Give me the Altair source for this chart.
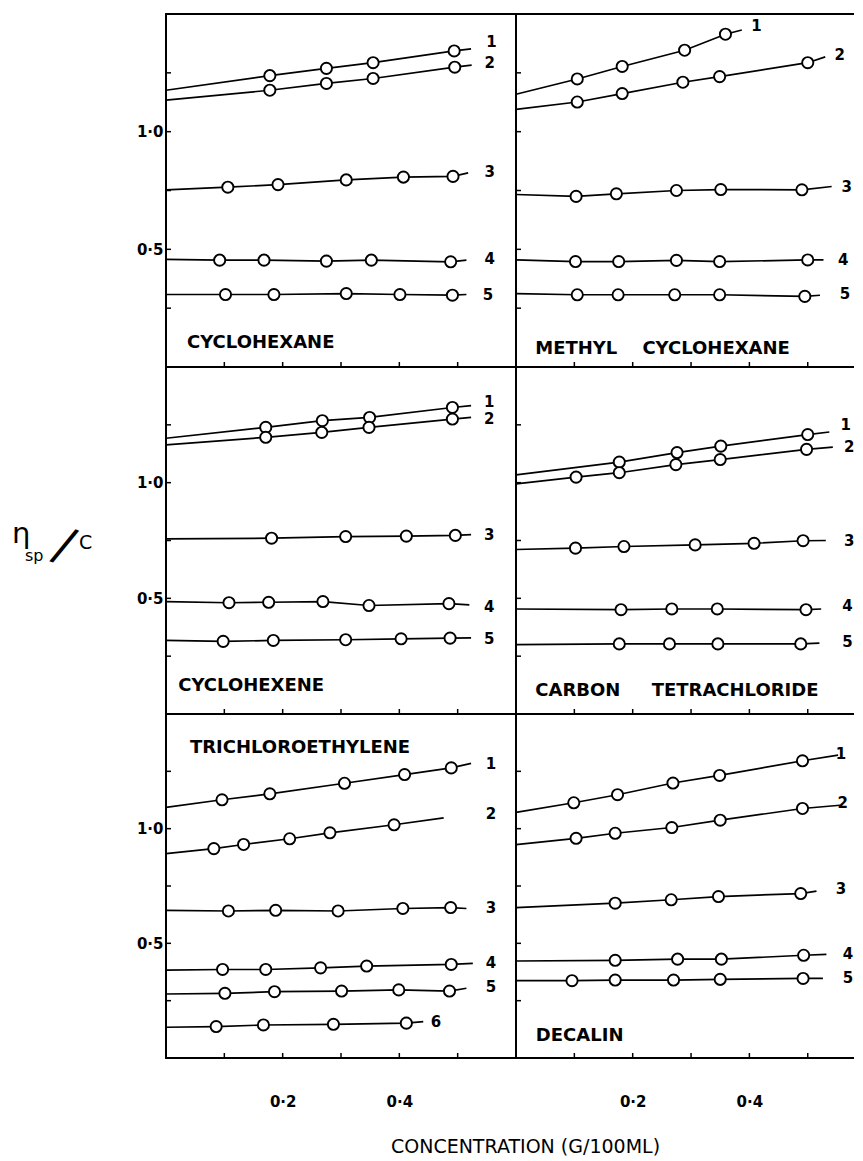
import altair as alt
import pandas as pd

FONT = "DejaVu Sans"

# ---------------- axis values ----------------
x_tick_values = [0.1, 0.2, 0.3, 0.4, 0.5]
y_tick_values = [0.25, 0.5, 0.75, 1.0, 1.25]
x_label_values = [0.2, 0.4]
y_label_values = [0.5, 1.0]

# ---------------- CYCLOHEXANE ----------------
cyclohexane_x = [
    [0.178, 0.275, 0.355, 0.494],
    [0.178, 0.275, 0.355, 0.495],
    [0.106, 0.192, 0.309, 0.407, 0.492],
    [0.092, 0.168, 0.275, 0.352, 0.488],
    [0.102, 0.185, 0.309, 0.401, 0.491],
]
cyclohexane_y = [
    [1.238, 1.269, 1.293, 1.343],
    [1.176, 1.205, 1.226, 1.274],
    [0.764, 0.775, 0.795, 0.807, 0.810],
    [0.454, 0.454, 0.450, 0.454, 0.447],
    [0.308, 0.308, 0.312, 0.308, 0.305],
]
cyclohexane_start_y = [1.176, 1.134, 0.753, 0.457, 0.308]
cyclohexane_end_x = [0.523, 0.524, 0.518, 0.515, 0.515]
cyclohexane_end_y = [1.352, 1.283, 0.825, 0.454, 0.308]
cyclohexane_label_x = [0.558, 0.555, 0.555, 0.555, 0.552]
cyclohexane_label_y = [1.383, 1.291, 0.828, 0.457, 0.308]

# ---------------- METHYL CYCLOHEXANE ----------------
methyl_x = [
    [0.105, 0.182, 0.289, 0.359],
    [0.105, 0.182, 0.286, 0.349, 0.500],
    [0.103, 0.172, 0.275, 0.351, 0.490],
    [0.102, 0.176, 0.275, 0.349, 0.500],
    [0.105, 0.175, 0.272, 0.349, 0.495],
]
methyl_y = [
    [1.224, 1.277, 1.346, 1.414],
    [1.126, 1.162, 1.210, 1.234, 1.293],
    [0.725, 0.736, 0.750, 0.754, 0.753],
    [0.448, 0.448, 0.453, 0.448, 0.455],
    [0.307, 0.307, 0.307, 0.307, 0.300],
]
methyl_start_y = [1.159, 1.095, 0.733, 0.455, 0.312]
methyl_end_x = [0.387, 0.530, 0.541, 0.527, 0.521]
methyl_end_y = [1.432, 1.318, 0.767, 0.455, 0.305]
methyl_label_x = [0.412, 0.555, 0.567, 0.561, 0.564]
methyl_label_y = [1.447, 1.325, 0.764, 0.455, 0.312]

# ---------------- CYCLOHEXENE ----------------
cyclohexene_x = [
    [0.171, 0.268, 0.349, 0.491],
    [0.171, 0.267, 0.348, 0.491],
    [0.181, 0.308, 0.412, 0.496],
    [0.108, 0.176, 0.269, 0.348, 0.485],
    [0.098, 0.184, 0.308, 0.403, 0.487],
]
cyclohexene_y = [
    [1.239, 1.268, 1.282, 1.325],
    [1.196, 1.217, 1.239, 1.275],
    [0.760, 0.767, 0.769, 0.772],
    [0.481, 0.483, 0.486, 0.469, 0.477],
    [0.314, 0.318, 0.321, 0.325, 0.328],
]
cyclohexene_start_y = [1.192, 1.163, 0.757, 0.486, 0.318]
cyclohexene_end_x = [0.523, 0.523, 0.523, 0.520, 0.523]
cyclohexene_end_y = [1.333, 1.282, 0.775, 0.472, 0.329]
cyclohexene_label_x = [0.554, 0.554, 0.554, 0.554, 0.554]
cyclohexene_label_y = [1.347, 1.275, 0.772, 0.462, 0.326]

# ---------------- CARBON TETRACHLORIDE ----------------
carbon_x = [
    [0.177, 0.276, 0.351, 0.500],
    [0.103, 0.177, 0.274, 0.350, 0.498],
    [0.102, 0.185, 0.307, 0.408, 0.492],
    [0.180, 0.267, 0.345, 0.497],
    [0.177, 0.263, 0.346, 0.488],
]
carbon_y = [
    [1.089, 1.130, 1.158, 1.208],
    [1.024, 1.043, 1.078, 1.100, 1.144],
    [0.717, 0.724, 0.731, 0.738, 0.749],
    [0.451, 0.454, 0.454, 0.451],
    [0.303, 0.303, 0.303, 0.303],
]
carbon_start_y = [1.034, 0.995, 0.711, 0.454, 0.300]
carbon_end_x = [0.537, 0.543, 0.531, 0.523, 0.520]
carbon_end_y = [1.219, 1.154, 0.750, 0.454, 0.306]
carbon_label_x = [0.565, 0.571, 0.571, 0.568, 0.568]
carbon_label_y = [1.248, 1.154, 0.750, 0.469, 0.310]

# ---------------- TRICHLOROETHYLENE ----------------
trichloro_x = [
    [0.096, 0.178, 0.306, 0.409, 0.489],
    [0.082, 0.133, 0.212, 0.281, 0.391],
    [0.107, 0.188, 0.295, 0.406, 0.488],
    [0.097, 0.171, 0.265, 0.344, 0.489],
    [0.101, 0.186, 0.301, 0.399, 0.486],
    [0.086, 0.167, 0.287, 0.412],
]
trichloro_y = [
    [1.126, 1.152, 1.198, 1.236, 1.265],
    [0.913, 0.931, 0.956, 0.982, 1.017],
    [0.641, 0.644, 0.641, 0.652, 0.656],
    [0.386, 0.386, 0.393, 0.401, 0.408],
    [0.282, 0.289, 0.292, 0.297, 0.292],
    [0.137, 0.144, 0.147, 0.152],
]
trichloro_start_y = [1.093, 0.891, 0.644, 0.383, 0.279, 0.134]
trichloro_end_x = [0.523, 0.476, 0.515, 0.526, 0.515, 0.441]
trichloro_end_y = [1.285, 1.047, 0.652, 0.413, 0.304, 0.159]
trichloro_label_x = [0.557, 0.557, 0.557, 0.557, 0.557, 0.463]
trichloro_label_y = [1.282, 1.065, 0.652, 0.413, 0.311, 0.159]

# ---------------- DECALIN ----------------
decalin_x = [
    [0.099, 0.174, 0.269, 0.349, 0.491],
    [0.103, 0.170, 0.267, 0.350, 0.491],
    [0.170, 0.266, 0.347, 0.488],
    [0.170, 0.277, 0.352, 0.493],
    [0.096, 0.170, 0.270, 0.350, 0.492],
]
decalin_y = [
    [1.113, 1.148, 1.199, 1.232, 1.296],
    [0.958, 0.980, 1.005, 1.037, 1.088],
    [0.675, 0.690, 0.704, 0.717],
    [0.426, 0.431, 0.431, 0.448],
    [0.337, 0.340, 0.340, 0.343, 0.347],
]
decalin_start_y = [1.071, 0.930, 0.656, 0.423, 0.337]
decalin_end_x = [0.552, 0.555, 0.515, 0.532, 0.526]
decalin_end_y = [1.321, 1.102, 0.728, 0.452, 0.347]
decalin_label_x = [0.557, 0.560, 0.557, 0.569, 0.569]
decalin_label_y = [1.325, 1.110, 0.735, 0.455, 0.347]

# ---------------- panel names ----------------
NB = "\u00a0"
panel_names = [
    "CYCLOHEXANE",
    "METHYL" + NB * 4 + "CYCLOHEXANE",
    "CYCLOHEXENE",
    "CARBON" + NB * 5 + "TETRACHLORIDE",
    "TRICHLOROETHYLENE",
    "DECALIN",
]
name_x = [0.036, 0.033, 0.021, 0.033, 0.041, 0.034]
name_y = [0.081, 0.055, 0.099, 0.078, 1.330, 0.074]

LABEL_EXPR = "replace(format(datum.value, '.1f'), '.', '\u00b7')"


def build_panel(idx, xs, ys, start_y, end_x, end_y, lab_x, lab_y,
                width, height, xmax, bottom, left, x_title=False, extra=None):
    pts, lines = [], []
    for i, (sx, sy) in enumerate(zip(xs, ys)):
        s = str(i + 1)
        lines.append({"s": s, "o": 0, "x": 0.0, "y": start_y[i]})
        for k, (a, b) in enumerate(zip(sx, sy)):
            pts.append({"s": s, "x": a, "y": b})
            lines.append({"s": s, "o": k + 1, "x": a, "y": b})
        lines.append({"s": s, "o": len(sx) + 1, "x": end_x[i], "y": end_y[i]})
    pts_df = pd.DataFrame(pts)
    lines_df = pd.DataFrame(lines)
    lab_df = pd.DataFrame({"x": lab_x, "y": lab_y,
                           "t": [str(i + 1) for i in range(len(lab_x))]})
    name_df = pd.DataFrame({"x": [name_x[idx]], "y": [name_y[idx]],
                            "t": [panel_names[idx]]})
    xt_df = pd.DataFrame({"x": x_tick_values})
    yt_df = pd.DataFrame({"y": y_tick_values})

    if bottom:
        ax_kwargs = dict(values=x_label_values, labelExpr=LABEL_EXPR, ticks=False,
                         tickSize=0, domain=False, grid=False, labelPadding=43,
                         labelBaseline="middle", labelFont=FONT, labelFontSize=15,
                         labelFontWeight="bold", labelColor="black")
        if x_title:
            ax_kwargs.update(title="CONCENTRATION (G/100ML)", titleX=359, titleY=88,
                             titleAlign="center", titleBaseline="middle",
                             titleFont=FONT, titleFontSize=19,
                             titleFontWeight="normal", titleColor="black")
        else:
            ax_kwargs.update(title=None)
        xaxis = alt.Axis(**ax_kwargs)
    else:
        xaxis = None
    if left:
        yaxis = alt.Axis(values=y_label_values, labelExpr=LABEL_EXPR, ticks=False,
                         tickSize=0, domain=False, grid=False, labelPadding=3,
                         labelFont=FONT, labelFontSize=15, labelFontWeight="bold",
                         labelColor="black", title=None)
    else:
        yaxis = None

    X = alt.X("x:Q", scale=alt.Scale(domain=[0, xmax], nice=False, zero=False), axis=xaxis)
    Y = alt.Y("y:Q", scale=alt.Scale(domain=[0, 1.5], nice=False, zero=False), axis=yaxis)

    xticks = alt.Chart(xt_df).mark_rule(color="black", strokeWidth=1.5).encode(
        x=X, y=alt.value(height), y2=alt.value(height - 5))
    yticks = alt.Chart(yt_df).mark_rule(color="black", strokeWidth=1.5).encode(
        y=Y, x=alt.value(0), x2=alt.value(5))
    line = alt.Chart(lines_df).mark_line(color="black", strokeWidth=1.7).encode(
        x=X, y=Y, detail="s:N", order="o:Q")
    points = alt.Chart(pts_df).mark_point(
        shape="circle", filled=True, fill="white", stroke="black",
        strokeWidth=1.9, size=125, opacity=1).encode(x=X, y=Y, detail="s:N")
    labels = alt.Chart(lab_df).mark_text(
        font=FONT, fontSize=15, fontWeight="bold", color="black",
        align="center", baseline="middle").encode(x=X, y=Y, text="t:N")
    name = alt.Chart(name_df).mark_text(
        font=FONT, fontSize=18, fontWeight="bold", color="black",
        align="left", baseline="alphabetic").encode(x=X, y=Y, text="t:N")
    layers = [xticks, yticks, line, points, labels, name]
    if extra:
        layers += extra
    return alt.layer(*layers).properties(width=width, height=height)


# y-axis title pieces (eta_sp / C) drawn as text beside the middle-left panel
one = pd.DataFrame({"a": [0]})
ytitle = [
    alt.Chart(one).mark_text(text="\u03b7", font=FONT, fontSize=29, color="black",
                             align="left", baseline="alphabetic").encode(
        x=alt.value(-154), y=alt.value(176)),
    alt.Chart(one).mark_text(text="sp", font=FONT, fontSize=16, color="black",
                             align="left", baseline="alphabetic").encode(
        x=alt.value(-141), y=alt.value(194)),
    alt.Chart(one).mark_text(text="/", font=FONT, fontSize=48, color="black",
                             align="left", baseline="alphabetic", angle=22).encode(
        x=alt.value(-115), y=alt.value(190)),
    alt.Chart(one).mark_text(text="C", font=FONT, fontSize=19, color="black",
                             align="left", baseline="alphabetic").encode(
        x=alt.value(-87), y=alt.value(182)),
]

WL, WR = 350, 346
XL, XR = 0.6, 0.593
H1, H2, H3 = 353, 347, 344

p1 = build_panel(0, cyclohexane_x, cyclohexane_y, cyclohexane_start_y, cyclohexane_end_x,
                 cyclohexane_end_y, cyclohexane_label_x, cyclohexane_label_y,
                 WL, H1, XL, bottom=False, left=True)
p2 = build_panel(1, methyl_x, methyl_y, methyl_start_y, methyl_end_x, methyl_end_y,
                 methyl_label_x, methyl_label_y, WR, H1, XR, bottom=False, left=False)
p3 = build_panel(2, cyclohexene_x, cyclohexene_y, cyclohexene_start_y, cyclohexene_end_x,
                 cyclohexene_end_y, cyclohexene_label_x, cyclohexene_label_y,
                 WL, H2, XL, bottom=False, left=True, extra=ytitle)
p4 = build_panel(3, carbon_x, carbon_y, carbon_start_y, carbon_end_x, carbon_end_y,
                 carbon_label_x, carbon_label_y, WR, H2, XR, bottom=False, left=False)
p5 = build_panel(4, trichloro_x, trichloro_y, trichloro_start_y, trichloro_end_x,
                 trichloro_end_y, trichloro_label_x, trichloro_label_y,
                 WL, H3, XL, bottom=True, left=True, x_title=True)
p6 = build_panel(5, decalin_x, decalin_y, decalin_start_y, decalin_end_x, decalin_end_y,
                 decalin_label_x, decalin_label_y, WR, H3, XR, bottom=True, left=False)

chart = alt.concat(p1, p2, p3, p4, p5, p6, columns=2, spacing=0, bounds="flush").properties(
    padding={"left": 3, "top": 5, "right": -9, "bottom": 0},
    background="white",
).configure_view(stroke="black", strokeWidth=2)

chart.save("out.html", embed_options={"renderer": "svg", "actions": False})
